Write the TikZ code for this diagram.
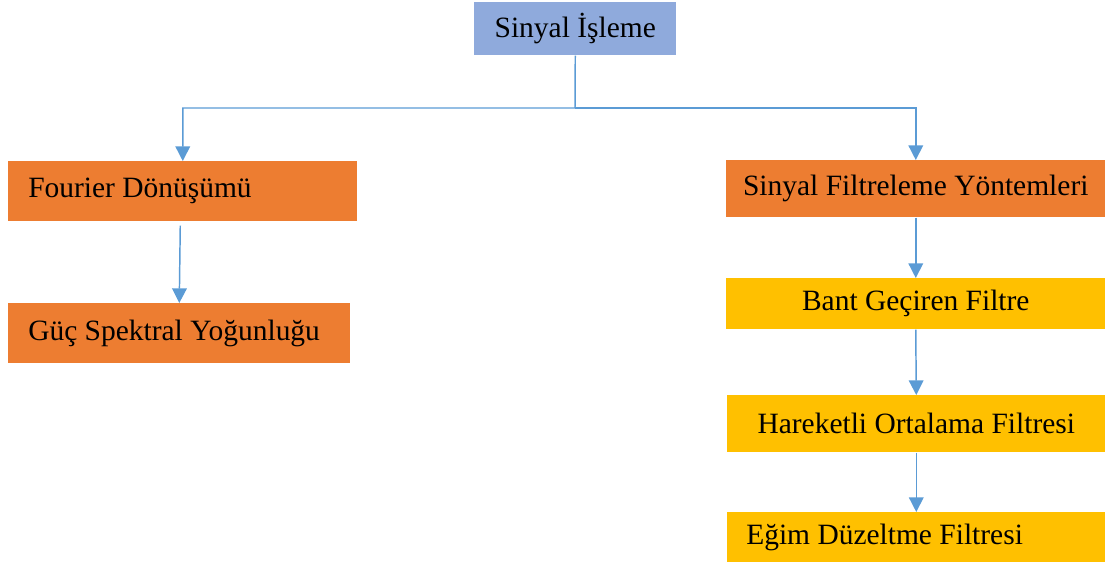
\documentclass[tikz,border=0pt]{standalone}
\usepackage{fontspec}
\setmainfont{Liberation Serif}
\usetikzlibrary{arrows.meta}
\definecolor{topblue}{HTML}{8FAADC}
\definecolor{orng}{HTML}{ED7D31}
\definecolor{ylw}{HTML}{FFC000}
\definecolor{lnblue}{HTML}{5B9BD5}
\begin{document}
\begin{tikzpicture}[x=0.75pt,y=-0.75pt,
  box/.style={fill=#1, anchor=north west, inner sep=0pt, font=\fontsize{22.1}{27}\selectfont},
  conn/.style={draw=lnblue, line width=1.1pt, -{Triangle[width=11pt,length=11pt]}}]
\path[use as bounding box] (0,0) rectangle (1105,565);
\node[box=topblue, minimum width=151.5pt, minimum height=39.75pt] (top) at (474,2) {Sinyal İşleme};
\node[box=orng, minimum width=261.75pt, minimum height=45pt] (four) at (8,161) {\makebox[231.75pt][l]{Fourier Dönüşümü}};
\node[box=orng, minimum width=256.5pt, minimum height=45pt] (guc) at (8,303) {\makebox[226.5pt][l]{Güç Spektral Yoğunluğu}};
\node[box=orng, minimum width=284.25pt, minimum height=42.75pt] (sfy) at (726,160) {Sinyal Filtreleme Yöntemleri};
\node[box=ylw, minimum width=284.25pt, minimum height=38.25pt] (bant) at (726,278) {Bant Geçiren Filtre};
\node[box=ylw, minimum width=283.5pt, minimum height=42.75pt] (har) at (727,395) {Hareketli Ortalama Filtresi};
\node[box=ylw, minimum width=283.5pt, minimum height=37.5pt] (egim) at (727,512) {\makebox[255pt][l]{Eğim Düzeltme Filtresi}};
\coordinate (jn) at (575,108);
\draw[conn] (top.south) -- (jn) -| (four.north);
\draw[conn] (jn) -| (sfy.north);
\draw[conn] ([shift={(-2.5,4)}]four.south) -- (guc.north);
\draw[conn] (sfy.south) -- (bant.north);
\draw[conn] (bant.south) -- (har.north);
\draw[conn] (har.south) -- (egim.north);
\end{tikzpicture}
\end{document}
